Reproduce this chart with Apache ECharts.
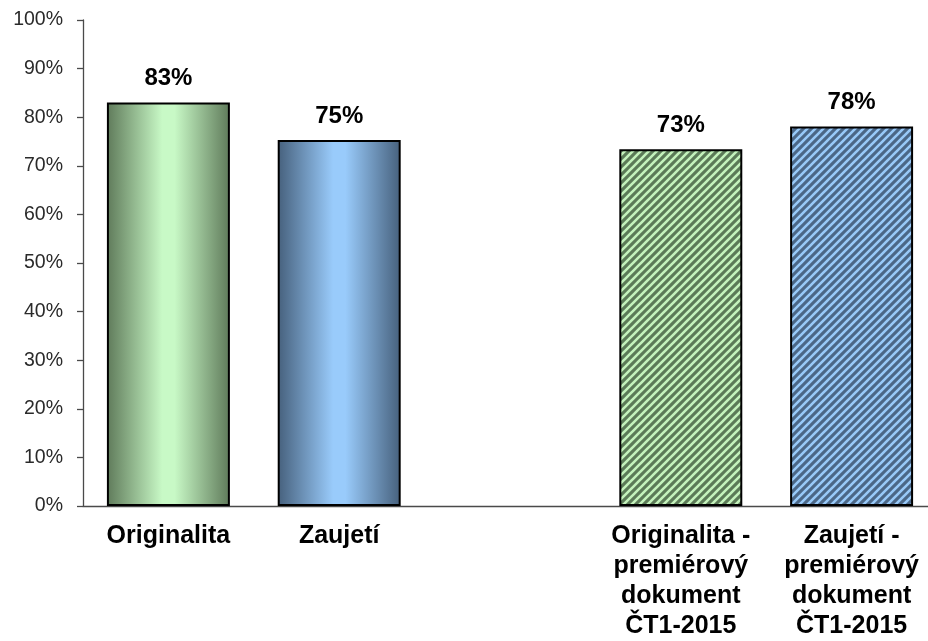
<!DOCTYPE html>
<html><head><meta charset="utf-8">
<script src="https://cdn.jsdelivr.net/npm/echarts@6/dist/echarts.min.js"></script>
<style>html,body{margin:0;padding:0;background:#fff;overflow:hidden;width:928px;height:641px}#c{width:940px;height:641px}</style>
</head><body><div id="c"></div>
<script>
const categories = ["Originalita", "Zaujetí", "", "Originalita -\npremiérový\ndokument\nČT1-2015", "Zaujetí -\npremiérový\ndokument\nČT1-2015"];
const values = [83.0, 75.3, null, 73.4, 78.1];
const yTicks = [0, 10, 20, 30, 40, 50, 60, 70, 80, 90, 100];

function grad(dark, light) {
  return new echarts.graphic.LinearGradient(0, 0, 1, 0, [
    {offset: 0, color: dark}, {offset: 0.45, color: light}, {offset: 0.55, color: light}, {offset: 1, color: dark}
  ]);
}
function hatch(dark, light) {
  const s = 8, c = document.createElement('canvas');
  c.width = s; c.height = s;
  const g = c.getContext('2d');
  g.fillStyle = dark; g.fillRect(0, 0, s, s);
  g.strokeStyle = light; g.lineWidth = 2.6;
  g.beginPath();
  g.moveTo(-2, 2); g.lineTo(2, -2);
  g.moveTo(-1, s + 1); g.lineTo(s + 1, -1);
  g.moveTo(s - 2, s + 2); g.lineTo(s + 2, s - 2);
  g.stroke();
  return {image: c, repeat: 'repeat'};
}
const fills = [
  grad('#5f7a5a', '#c8f9c6'),
  grad('#46607c', '#99cbfb'),
  '#fff',
  hatch('#5b7a57', '#c4f2bc'),
  hatch('#4b6787', '#98c9f8')
];

const chart = echarts.init(document.getElementById('c'), null, {renderer: 'canvas'});
chart.setOption({
  animation: false,
  grid: {left: 83, width: 854, top: 20, height: 489},
  xAxis: {
    type: 'category', data: categories,
    axisLine: {lineStyle: {color: '#4a4a4a', width: 1.3}},
    axisTick: {length: 7, lineStyle: {color: '#4a4a4a', width: 1.3}},
    axisLabel: {fontFamily: 'Liberation Sans, Arial', fontWeight: 'bold', fontSize: 25, color: '#000', margin: 15, lineHeight: 30, interval: 0}
  },
  yAxis: {
    type: 'value', min: 0, max: 100, interval: 10,
    axisLine: {show: true, lineStyle: {color: '#4a4a4a', width: 1.3}},
    axisTick: {show: true, length: 6, lineStyle: {color: '#4a4a4a', width: 1.3}},
    splitLine: {show: false},
    axisLabel: {fontFamily: 'Liberation Sans, Arial', fontSize: 19.5, color: '#2a2a2a', margin: 20,
      formatter: v => yTicks.includes(v) ? v + '%' : ''}
  },
  series: [{
    type: 'bar', barWidth: '72%',
    data: values.map((v, i) => ({value: v, itemStyle: {color: fills[i], borderColor: '#000', borderWidth: 2}})),
    label: {show: true, position: 'top', distance: 12, fontFamily: 'Liberation Sans, Arial', fontWeight: 'bold', fontSize: 24, color: '#000',
      formatter: p => p.value == null ? '' : Math.round(p.value) + '%'}
  }]
});
</script></body></html>
